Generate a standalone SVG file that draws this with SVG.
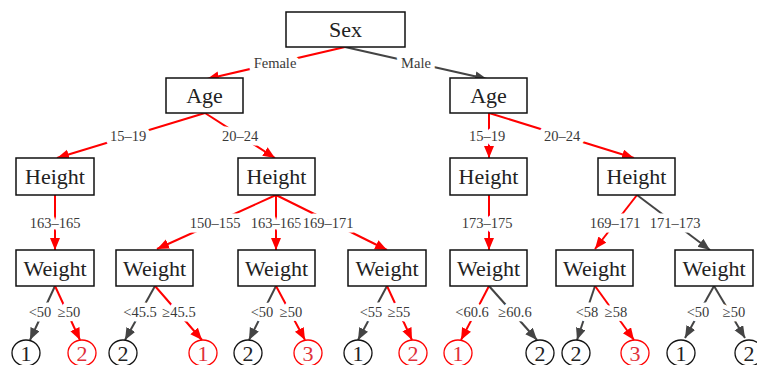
<svg xmlns="http://www.w3.org/2000/svg" width="757" height="365" viewBox="0 0 757 365">
<style>
.box{fill:#fff;stroke:#111;stroke-width:1.5}
.nt{font-family:"Liberation Serif","Times New Roman",serif;font-size:22px;fill:#222;text-anchor:middle;dominant-baseline:central}
.el{font-family:"Liberation Serif","Times New Roman",serif;font-size:14.5px;fill:#3a3a3a;text-anchor:middle;dominant-baseline:central;stroke:#fff;stroke-width:9;paint-order:stroke;stroke-linejoin:round}
.r{stroke:#f00;stroke-width:2;fill:none;marker-end:url(#ar)}
.d{stroke:#444;stroke-width:2;fill:none;marker-end:url(#ad)}
.lf{fill:#fff;stroke:#111;stroke-width:1.3}
.lfr{fill:#fff;stroke:#f00;stroke-width:1.3}
.lt{font-family:"Liberation Serif","Times New Roman",serif;font-size:22px;fill:#222;text-anchor:middle;dominant-baseline:central}
.ltr{font-family:"Liberation Serif","Times New Roman",serif;font-size:22px;fill:#e0303a;text-anchor:middle;dominant-baseline:central}
</style>
<defs>
<marker id="ar" markerUnits="userSpaceOnUse" markerWidth="14" markerHeight="12" refX="12" refY="5" orient="auto"><path d="M0,0 L12,5 L0,10 Z" fill="#f00"/></marker>
<marker id="ad" markerUnits="userSpaceOnUse" markerWidth="14" markerHeight="12" refX="12" refY="5" orient="auto"><path d="M0,0 L12,5 L0,10 Z" fill="#444"/></marker>
</defs>
<g id="edges">
<line class="r" x1="345" y1="47" x2="207" y2="79"/>
<line class="d" x1="345" y1="47" x2="487" y2="79"/>
<line class="r" x1="205" y1="113" x2="57" y2="158"/>
<line class="r" x1="205" y1="113" x2="275" y2="158"/>
<line class="r" x1="489" y1="113" x2="489" y2="158"/>
<line class="r" x1="489" y1="113" x2="634" y2="158"/>
<line class="r" x1="55" y1="195" x2="55" y2="250"/>
<line class="r" x1="276" y1="195" x2="157" y2="249"/>
<line class="r" x1="276" y1="195" x2="276" y2="250"/>
<line class="r" x1="276" y1="195" x2="387" y2="250"/>
<line class="r" x1="489" y1="195" x2="489" y2="250"/>
<line class="r" x1="637" y1="195" x2="595" y2="249"/>
<line class="d" x1="637" y1="195" x2="710" y2="250"/>
<line class="d" x1="55" y1="286" x2="30" y2="340"/>
<line class="r" x1="55" y1="286" x2="80" y2="340"/>
<line class="d" x1="155" y1="286" x2="125" y2="340"/>
<line class="r" x1="155" y1="286" x2="202" y2="340"/>
<line class="d" x1="276" y1="286" x2="249" y2="340"/>
<line class="r" x1="276" y1="286" x2="305" y2="340"/>
<line class="d" x1="387" y1="286" x2="358" y2="340"/>
<line class="r" x1="387" y1="286" x2="412" y2="340"/>
<line class="r" x1="489" y1="286" x2="461" y2="340"/>
<line class="d" x1="489" y1="286" x2="537" y2="340"/>
<line class="d" x1="595" y1="286" x2="577" y2="340"/>
<line class="r" x1="595" y1="286" x2="634" y2="340"/>
<line class="d" x1="714" y1="286" x2="685" y2="338"/>
<line class="d" x1="714" y1="286" x2="745" y2="338"/>
<text class="el" x="275" y="63">Female</text>
<text class="el" x="416" y="63">Male</text>
<text class="el" x="128" y="136">15–19</text>
<text class="el" x="240" y="136">20–24</text>
<text class="el" x="487" y="136">15–19</text>
<text class="el" x="562" y="136">20–24</text>
<text class="el" x="55" y="223">163–165</text>
<text class="el" x="215" y="223">150–155</text>
<text class="el" x="276" y="223">163–165</text>
<text class="el" x="328" y="223">169–171</text>
<text class="el" x="487" y="223">173–175</text>
<text class="el" x="615" y="223">169–171</text>
<text class="el" x="675" y="223">171–173</text>
<text class="el" x="40" y="312">&lt;50</text>
<text class="el" x="69" y="312">≥50</text>
<text class="el" x="140" y="312">&lt;45.5</text>
<text class="el" x="179" y="312">≥45.5</text>
<text class="el" x="262" y="312">&lt;50</text>
<text class="el" x="291" y="312">≥50</text>
<text class="el" x="371" y="312">&lt;55</text>
<text class="el" x="399" y="312">≥55</text>
<text class="el" x="472" y="312">&lt;60.6</text>
<text class="el" x="515" y="312">≥60.6</text>
<text class="el" x="587" y="312">&lt;58</text>
<text class="el" x="616" y="312">≥58</text>
<text class="el" x="698" y="312">&lt;50</text>
<text class="el" x="734" y="312">≥50</text>
</g>
<g id="sex"><rect class="box" x="286" y="12" width="119" height="35"/><text class="nt" x="345.5" y="29.5">Sex</text></g>
<g id="age-f"><rect class="box" x="166" y="78" width="77" height="35"/><text class="nt" x="204.5" y="95.5">Age</text></g>
<g id="age-m"><rect class="box" x="450" y="78" width="77" height="35"/><text class="nt" x="488.5" y="95.5">Age</text></g>
<g id="height-1"><rect class="box" x="16" y="158" width="78" height="37"/><text class="nt" x="55" y="176.5">Height</text></g>
<g id="height-2"><rect class="box" x="238" y="158" width="77" height="37"/><text class="nt" x="276.5" y="176.5">Height</text></g>
<g id="height-3"><rect class="box" x="450" y="158" width="77" height="37"/><text class="nt" x="488.5" y="176.5">Height</text></g>
<g id="height-4"><rect class="box" x="598" y="158" width="77" height="37"/><text class="nt" x="636.5" y="176.5">Height</text></g>
<g id="weight-1"><rect class="box" x="16" y="250" width="78" height="36"/><text class="nt" x="55" y="268">Weight</text></g>
<g id="weight-2"><rect class="box" x="116" y="250" width="77" height="36"/><text class="nt" x="154.5" y="268">Weight</text></g>
<g id="weight-3"><rect class="box" x="238" y="250" width="77" height="36"/><text class="nt" x="276.5" y="268">Weight</text></g>
<g id="weight-4"><rect class="box" x="348" y="250" width="78" height="36"/><text class="nt" x="387" y="268">Weight</text></g>
<g id="weight-5"><rect class="box" x="450" y="250" width="77" height="36"/><text class="nt" x="488.5" y="268">Weight</text></g>
<g id="weight-6"><rect class="box" x="556" y="250" width="77" height="36"/><text class="nt" x="594.5" y="268">Weight</text></g>
<g id="weight-7"><rect class="box" x="675" y="250" width="78" height="36"/><text class="nt" x="714" y="268">Weight</text></g>
<g id="leaf-1"><ellipse class="lf" cx="26" cy="353" rx="14" ry="13"/><text class="lt" x="26" y="353">1</text></g>
<g id="leaf-2"><ellipse class="lfr" cx="82" cy="353" rx="14" ry="13"/><text class="ltr" x="82" y="353">2</text></g>
<g id="leaf-3"><ellipse class="lf" cx="123" cy="353" rx="14" ry="13"/><text class="lt" x="123" y="353">2</text></g>
<g id="leaf-4"><ellipse class="lfr" cx="203" cy="353" rx="14" ry="13"/><text class="ltr" x="203" y="353">1</text></g>
<g id="leaf-5"><ellipse class="lf" cx="248" cy="353" rx="14" ry="13"/><text class="lt" x="248" y="353">2</text></g>
<g id="leaf-6"><ellipse class="lfr" cx="308" cy="353" rx="14" ry="13"/><text class="ltr" x="308" y="353">3</text></g>
<g id="leaf-7"><ellipse class="lf" cx="358" cy="353" rx="14" ry="13"/><text class="lt" x="358" y="353">1</text></g>
<g id="leaf-8"><ellipse class="lfr" cx="413" cy="353" rx="14" ry="13"/><text class="ltr" x="413" y="353">2</text></g>
<g id="leaf-9"><ellipse class="lfr" cx="458" cy="353" rx="14" ry="13"/><text class="ltr" x="458" y="353">1</text></g>
<g id="leaf-10"><ellipse class="lf" cx="540" cy="353" rx="14" ry="13"/><text class="lt" x="540" y="353">2</text></g>
<g id="leaf-11"><ellipse class="lf" cx="576" cy="353" rx="14" ry="13"/><text class="lt" x="576" y="353">2</text></g>
<g id="leaf-12"><ellipse class="lfr" cx="635" cy="353" rx="14" ry="13"/><text class="ltr" x="635" y="353">3</text></g>
<g id="leaf-13"><ellipse class="lf" cx="681" cy="353" rx="14" ry="13"/><text class="lt" x="681" y="353">1</text></g>
<g id="leaf-14"><ellipse class="lf" cx="749" cy="353" rx="14" ry="13"/><text class="lt" x="749" y="353">2</text></g>
</svg>
